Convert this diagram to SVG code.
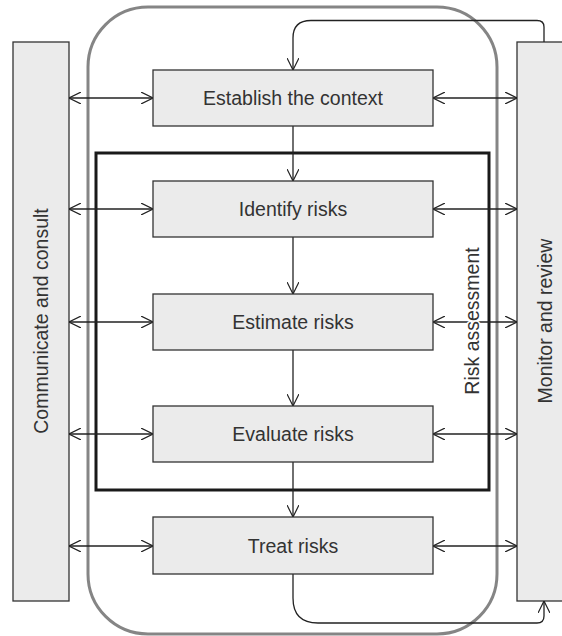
<svg xmlns="http://www.w3.org/2000/svg" width="562" height="636" viewBox="0 0 562 636">
<style>
  .bar{fill:#ebebeb;stroke:#333;stroke-width:1.3}
  .box{fill:#ebebeb;stroke:#333;stroke-width:1.3}
  .lbl{font-family:"Liberation Sans",Arial,sans-serif;font-size:19.5px;fill:#333;text-anchor:middle}
  .c{fill:none;stroke:#222;stroke-width:1.3}
</style>
<defs>
  <marker id="ah" viewBox="0 0 12 12" refX="12" refY="6" markerWidth="12" markerHeight="12" markerUnits="userSpaceOnUse" orient="auto-start-reverse">
    <path d="M0,0 L12,6 L0,12" fill="none" stroke="#222" stroke-width="1.2"/>
  </marker>
</defs>
<rect width="562" height="636" fill="#fff"/>
<g id="process-frame">
  <rect x="88" y="7" width="409" height="627" rx="60" ry="60" fill="none" stroke="#858585" stroke-width="3"/>
</g>
<g id="communicate">
  <rect class="bar" x="13" y="42" width="56" height="559"/>
  <text class="lbl" transform="translate(41,321) rotate(-90)" y="7">Communicate and consult</text>
</g>
<g id="monitor">
  <rect class="bar" x="517" y="42" width="50" height="559"/>
  <text class="lbl" transform="translate(545,321) rotate(-90)" y="7">Monitor and review</text>
</g>
<g id="risk-assessment">
  <rect x="96" y="153" width="393" height="337" fill="none" stroke="#1a1a1a" stroke-width="3"/>
</g>
<g id="connectors">
  <line class="c" x1="69" y1="98" x2="153" y2="98" marker-start="url(#ah)" marker-end="url(#ah)"/>
  <line class="c" x1="69" y1="209" x2="153" y2="209" marker-start="url(#ah)" marker-end="url(#ah)"/>
  <line class="c" x1="69" y1="322" x2="153" y2="322" marker-start="url(#ah)" marker-end="url(#ah)"/>
  <line class="c" x1="69" y1="434" x2="153" y2="434" marker-start="url(#ah)" marker-end="url(#ah)"/>
  <line class="c" x1="69" y1="546" x2="153" y2="546" marker-start="url(#ah)" marker-end="url(#ah)"/>
  <line class="c" x1="433" y1="98" x2="517" y2="98" marker-start="url(#ah)" marker-end="url(#ah)"/>
  <line class="c" x1="433" y1="209" x2="517" y2="209" marker-start="url(#ah)" marker-end="url(#ah)"/>
  <line class="c" x1="433" y1="322" x2="517" y2="322" marker-start="url(#ah)" marker-end="url(#ah)"/>
  <line class="c" x1="433" y1="434" x2="517" y2="434" marker-start="url(#ah)" marker-end="url(#ah)"/>
  <line class="c" x1="433" y1="546" x2="517" y2="546" marker-start="url(#ah)" marker-end="url(#ah)"/>
  <line class="c" x1="293" y1="126" x2="293" y2="181" marker-end="url(#ah)"/>
  <line class="c" x1="293" y1="237" x2="293" y2="294" marker-end="url(#ah)"/>
  <line class="c" x1="293" y1="350" x2="293" y2="406" marker-end="url(#ah)"/>
  <line class="c" x1="293" y1="462" x2="293" y2="517" marker-end="url(#ah)"/>
  <path class="c" d="M544,42 V27 Q544,20.5 537,20.5 H311 Q293,20.5 293,38 V70" marker-end="url(#ah)"/>
  <path class="c" d="M293,574 V598 Q293,623 318,623 H537 Q544,623 544,616 V601" marker-end="url(#ah)"/>
</g>
<g id="establish">
  <rect class="box" x="153" y="70" width="280" height="56"/>
  <text class="lbl" x="293" y="105">Establish the context</text>
</g>
<g id="identify">
  <rect class="box" x="153" y="181" width="280" height="56"/>
  <text class="lbl" x="293" y="216">Identify risks</text>
</g>
<g id="estimate">
  <rect class="box" x="153" y="294" width="280" height="56"/>
  <text class="lbl" x="293" y="329">Estimate risks</text>
</g>
<g id="evaluate">
  <rect class="box" x="153" y="406" width="280" height="56"/>
  <text class="lbl" x="293" y="441">Evaluate risks</text>
</g>
<g id="treat">
  <rect class="box" x="153" y="517" width="280" height="57"/>
  <text class="lbl" x="293" y="553">Treat risks</text>
</g>
<g id="risk-assessment-label">
  <text class="lbl" transform="translate(472,321) rotate(-90)" y="7" stroke="#fff" stroke-width="3" paint-order="stroke">Risk assessment</text>
</g>
</svg>
